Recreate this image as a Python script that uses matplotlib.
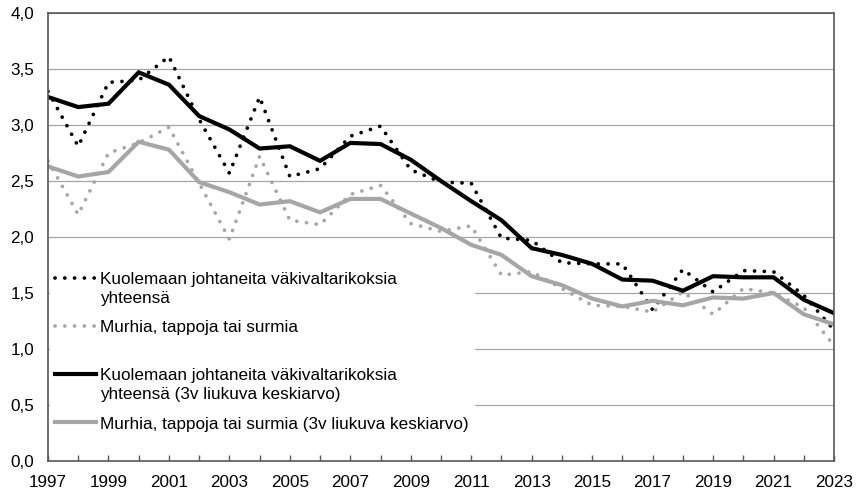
import matplotlib
matplotlib.use("Agg")
import matplotlib.pyplot as plt
from matplotlib.ticker import FuncFormatter, FixedLocator, MultipleLocator

plt.rcParams['font.family'] = ['Liberation Sans', 'DejaVu Sans']

years = list(range(1997, 2024))
year_labels = years[::2]

# Kuolemaan johtaneita väkivaltarikoksia yhteensä (per 100 000)
total = [3.30, 2.81, 3.38, 3.40, 3.61, 3.05, 2.57, 3.25, 2.54, 2.61, 2.90, 2.99, 2.60,
         2.49, 2.48, 1.99, 1.97, 1.77, 1.76, 1.76, 1.35, 1.71, 1.51, 1.70, 1.69, 1.48, 1.17]
# Murhia, tappoja tai surmia
murders = [2.68, 2.20, 2.75, 2.84, 2.98, 2.48, 1.98, 2.72, 2.15, 2.11, 2.38, 2.46, 2.12,
           2.05, 2.10, 1.66, 1.69, 1.54, 1.39, 1.38, 1.33, 1.51, 1.31, 1.54, 1.50, 1.37, 1.03]
# 3v liukuva keskiarvo
total_avg = [3.25, 3.16, 3.19, 3.47, 3.36, 3.08, 2.96, 2.79, 2.81, 2.68, 2.84, 2.83, 2.69,
             2.50, 2.32, 2.15, 1.90, 1.84, 1.76, 1.62, 1.61, 1.52, 1.65, 1.64, 1.64, 1.44, 1.32]
murders_avg = [2.63, 2.54, 2.58, 2.85, 2.78, 2.49, 2.40, 2.29, 2.32, 2.22, 2.34, 2.34, 2.21,
               2.08, 1.93, 1.84, 1.65, 1.57, 1.45, 1.38, 1.43, 1.39, 1.46, 1.45, 1.50, 1.31, 1.22]

labels = ["Kuolemaan johtaneita väkivaltarikoksia\nyhteensä",
          "Murhia, tappoja tai surmia\n",
          "Kuolemaan johtaneita väkivaltarikoksia\nyhteensä (3v liukuva keskiarvo)",
          "Murhia, tappoja tai surmia (3v liukuva keskiarvo)"]

black = "#000000"
gray = "#A6A6A6"
frame = "#595959"

fig = plt.figure(figsize=(8.56, 4.90), dpi=100)
ax = fig.add_axes([48 / 856, 1 - 461 / 490, (834 - 48) / 856, (461 - 13) / 490])

dots = (0, (0.01, 2.6))
ax.plot(years, total, color=black, lw=2.7, linestyle=dots, dash_capstyle="round", label=labels[0])
ax.plot(years, murders, color=gray, lw=2.7, linestyle=dots, dash_capstyle="round", label=labels[1])
ax.plot(years, total_avg, color=black, lw=3.0, solid_joinstyle="miter", label=labels[2])
ax.plot(years, murders_avg, color=gray, lw=3.0, solid_joinstyle="miter", label=labels[3])

ax.set_xlim(1997, 2023)
ax.set_ylim(0, 4.0)
ax.xaxis.set_major_locator(FixedLocator(year_labels))
ax.xaxis.set_minor_locator(MultipleLocator(1))
ax.yaxis.set_major_locator(MultipleLocator(0.5))
ax.yaxis.set_major_formatter(FuncFormatter(lambda v, p: f"{v:.1f}".replace(".", ",")))
ax.tick_params(axis="x", which="both", direction="in", length=4, width=1, color=frame,
               labelsize=12.3, pad=10)
ax.tick_params(axis="y", length=0, labelsize=12.3, pad=10)
ax.grid(axis="y", color="#A6A6A6", lw=0.9)
ax.set_axisbelow(True)
for s in ax.spines.values():
    s.set_color(frame)
    s.set_linewidth(1.2)

leg = ax.legend(loc="upper left", bbox_to_anchor=(0.002, 0.433), fontsize=12.3,
                frameon=True, fancybox=False, framealpha=1, edgecolor="white",
                handlelength=2.4, handletextpad=0.25, labelspacing=0.85,
                borderpad=0.3, borderaxespad=0)
for t in leg.get_texts():
    t.set_linespacing(1.3)
# align handles with the first line of the label, as in the original
for col in leg._legend_handle_box.get_children():
    for item in col.get_children():
        item.align = "top"

fig.savefig("out.png", dpi=100)
